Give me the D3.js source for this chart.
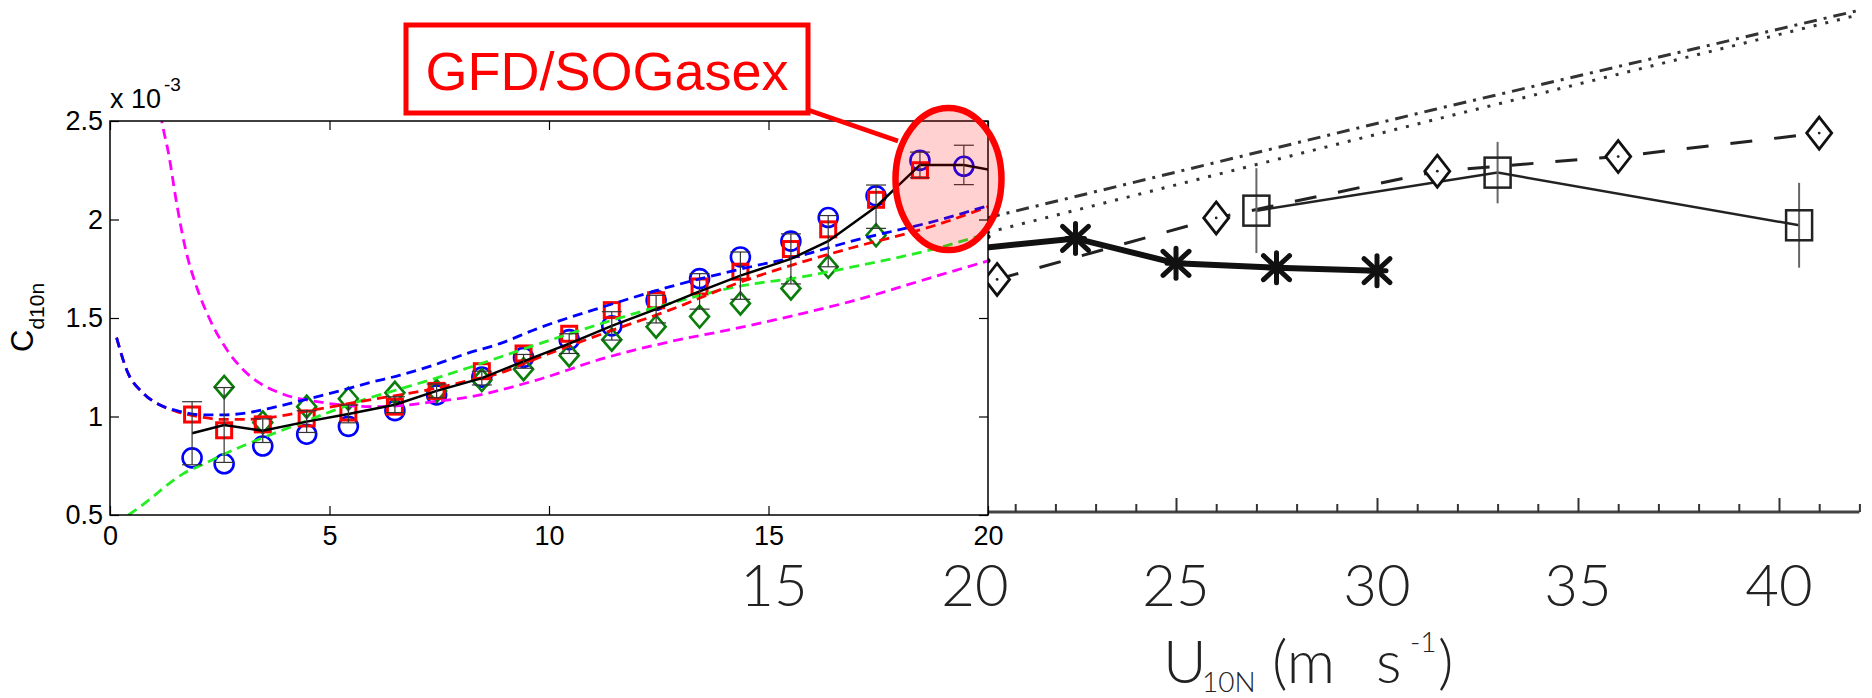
<!DOCTYPE html>
<html>
<head>
<meta charset="utf-8">
<script src="https://cdn.jsdelivr.net/npm/d3@7"></script>
<style>
  html, body { margin: 0; padding: 0; background: #fff; }
  svg { display: block; }
</style>
</head>
<body>
<svg id="chart" width="1872" height="698"></svg>
<script>
// ---- left panel (GFD / SOGasex bin averages), Cd x 10^-3 ----
const uBins = [1.87, 2.6, 3.48, 4.48, 5.43, 6.49, 7.44, 8.47, 9.42, 10.46, 11.43, 12.44, 13.43, 14.36, 15.51, 16.36, 17.45, 18.45, 19.45, 20.45];
const cdCircle = [0.79, 0.76, 0.85, 0.91, 0.95, 1.03, 1.11, 1.20, 1.30, 1.39, 1.46, 1.59, 1.70, 1.81, 1.89, 2.01, 2.12, 2.30, 2.27];
const cdSquare = [1.01, 0.93, 0.96, 0.99, 1.02, 1.05, 1.13, 1.23, 1.32, 1.42, 1.54, 1.59, 1.66, 1.735, 1.85, 1.95, 2.10, 2.25];
const uDiamond = [2.6, 3.48, 4.48, 5.43, 6.49, 7.44, 8.47, 9.42, 10.46, 11.43, 12.44, 13.43, 14.36, 15.51, 16.36, 17.45];
const cdDiamond = [1.15, 0.97, 1.05, 1.09, 1.12, 1.13, 1.185, 1.24, 1.31, 1.39, 1.456, 1.507, 1.574, 1.65, 1.76, 1.92];
const cdMean = [0.915, 0.957, 0.928, 0.974, 1.013, 1.06, 1.13, 1.195, 1.28, 1.37, 1.46, 1.545, 1.635, 1.715, 1.80, 1.89, 2.065, 2.277, 2.277, 2.235];
const errMean = [0.16, 0.19, 0.06, 0.055, 0.045, 0.04, 0.035, 0.035, 0.035, 0.05, 0.072, 0.07, 0.09, 0.12, 0.127, 0.13, 0.11, 0.065, 0.10];

// model curves (dashed)
const uCurve = [0.15, 0.38, 0.76, 1.14, 1.52, 2.13, 2.58, 3.04, 3.80, 4.56, 5.31, 5.92, 6.61, 7.36, 8.13, 8.88, 9.72, 11.24, 12.76, 14.28, 15.79, 16.86, 18.93, 20];
const cdBlue  = [1.40, 1.236, 1.118, 1.058, 1.03, 1.008, 1.008, 1.016, 1.05, 1.092, 1.135, 1.172, 1.21, 1.26, 1.32, 1.37, 1.445, 1.557, 1.659, 1.744, 1.82, 1.888, 2.00, 2.07];
const cdRed   = [1.40, 1.236, 1.118, 1.058, 1.025, 0.995, 0.985, 0.985, 1.00, 1.03, 1.06, 1.085, 1.11, 1.14, 1.18, 1.22, 1.295, 1.422, 1.541, 1.676, 1.786, 1.854, 1.98, 2.065];
const uGreen  = [0.42, 0.91, 1.29, 1.67, 2.05, 2.81, 3.57, 4.33, 5.09, 5.85, 6.61, 7.36, 8.2, 9.72, 11.24, 12.76, 14.28, 15.79, 16.86, 18.93, 20];
const cdGreen = [0.50, 0.58, 0.65, 0.71, 0.75, 0.83, 0.90, 0.965, 1.03, 1.09, 1.14, 1.19, 1.25, 1.365, 1.475, 1.574, 1.659, 1.71, 1.757, 1.86, 1.93];
const uMagenta  = [1.1, 1.18, 1.33, 1.52, 1.71, 1.97, 2.28, 2.66, 3.04, 3.42, 3.80, 4.18, 4.48, 5.31, 5.92, 6.61, 7.36, 8.2, 9.72, 11.24, 12.76, 14.28, 15.79, 16.86, 18.93, 20];
const cdMagenta = [2.62, 2.5, 2.34, 2.08, 1.86, 1.66, 1.49, 1.34, 1.236, 1.168, 1.126, 1.097, 1.084, 1.058, 1.05, 1.055, 1.075, 1.10, 1.185, 1.295, 1.38, 1.448, 1.524, 1.583, 1.72, 1.79];

const xTicksL = [0, 5, 10, 15, 20];
const yTicksL = [0.5, 1, 1.5, 2, 2.5];

// ---- background scanned panel ----
const uStar = [20, 22.5, 25, 27.5, 30];
const cdStar = [1.80, 1.87, 1.70, 1.67, 1.65];
const uDiamR = [20.55, 26.0, 31.5, 36.0, 41.0];
const cdDiamR = [1.59, 2.01, 2.33, 2.43, 2.59];
const uBoxR = [27.0, 33.0, 40.5];
const cdBoxR = [2.06, 2.32, 1.96];
const errBoxR = [0.29, 0.21, 0.29];
const uLineR = [20.3, 31.4, 42];
const cdDashDot = [2.01, 2.75, 3.43];
const cdDotted = [1.91, 2.68, 3.40];
const xMinorR = d3.range(21, 43);
const xMajorR = [25, 30, 35, 40];
const xLabelsR = [15, 20, 25, 30, 35, 40];

const svg = d3.select("#chart");

const xR = d3.scaleLinear().domain([20, 40]).range([975, 1779]);
const yR = d3.scaleLinear().domain([0, 3.5]).range([512, 0]);

const x = d3.scaleLinear().domain([0, 20]).range([110, 988]);
const y = d3.scaleLinear().domain([0.5, 2.5]).range([515, 121]);

const hershey = "Lato, Roboto, 'DejaVu Sans', sans-serif";

// ================= background panel =================
const bg = svg.append("g");
const lineR = d3.line().x(d => xR(d[0])).y(d => yR(d[1]));

bg.append("path")
  .attr("d", lineR(d3.zip(uLineR, cdDashDot)))
  .attr("fill", "none").attr("stroke", "#333").attr("stroke-width", 3)
  .attr("stroke-dasharray", "13,7,3,7");
bg.append("path")
  .attr("d", lineR(d3.zip(uLineR, cdDotted)))
  .attr("fill", "none").attr("stroke", "#333").attr("stroke-width", 3)
  .attr("stroke-dasharray", "3,9");

bg.append("path")
  .attr("d", lineR(d3.zip(uDiamR, cdDiamR)))
  .attr("fill", "none").attr("stroke", "#222").attr("stroke-width", 3)
  .attr("stroke-dasharray", "22,22");

bg.append("path")
  .attr("d", lineR(d3.zip(uBoxR, cdBoxR)))
  .attr("fill", "none").attr("stroke", "#222").attr("stroke-width", 2.5);

bg.selectAll(".ebR").data(d3.range(uBoxR.length)).join("line")
  .attr("x1", i => xR(uBoxR[i])).attr("x2", i => xR(uBoxR[i]))
  .attr("y1", i => yR(cdBoxR[i] - errBoxR[i])).attr("y2", i => yR(cdBoxR[i] + errBoxR[i]))
  .attr("stroke", "#666").attr("stroke-width", 2);

bg.selectAll(".boxR").data(d3.range(uBoxR.length)).join("rect")
  .attr("x", i => xR(uBoxR[i]) - 13).attr("y", i => yR(cdBoxR[i]) - 15)
  .attr("width", 26).attr("height", 30)
  .attr("fill", "none").attr("stroke", "#222").attr("stroke-width", 2.5);

bg.selectAll(".diamR").data(d3.range(uDiamR.length)).join("path")
  .attr("transform", i => `translate(${xR(uDiamR[i])},${yR(cdDiamR[i])})`)
  .attr("d", "M0,-16L12.5,0L0,16L-12.5,0Z")
  .attr("fill", "#fff").attr("stroke", "#111").attr("stroke-width", 2.8);
bg.selectAll(".diamDot").data(d3.range(uDiamR.length)).join("circle")
  .attr("cx", i => xR(uDiamR[i])).attr("cy", i => yR(cdDiamR[i]))
  .attr("r", 1.4).attr("fill", "#222");

bg.append("path")
  .attr("d", lineR(d3.zip(uStar, cdStar)))
  .attr("fill", "none").attr("stroke", "#111").attr("stroke-width", 6);
const star = bg.selectAll(".star").data(d3.range(uStar.length)).join("g")
  .attr("transform", i => `translate(${xR(uStar[i])},${yR(cdStar[i])})`)
  .attr("stroke", "#111").attr("stroke-width", 5).attr("stroke-linecap", "round");
star.append("line").attr("x1", 0).attr("y1", -15).attr("x2", 0).attr("y2", 15);
star.append("line").attr("x1", -13).attr("y1", -12).attr("x2", 13).attr("y2", 12);
star.append("line").attr("x1", -13).attr("y1", 12).attr("x2", 13).attr("y2", -12);
star.append("line").attr("x1", -9).attr("y1", 0).attr("x2", 9).attr("y2", 0);

// axis of the background panel
bg.append("line")
  .attr("x1", 988).attr("x2", xR(42)).attr("y1", yR(0)).attr("y2", yR(0))
  .attr("stroke", "#444").attr("stroke-width", 3);
bg.append("g")
  .attr("transform", `translate(0,${yR(0)})`)
  .call(d3.axisBottom(xR).tickValues(xMinorR.filter(v => !xMajorR.includes(v))).tickSize(-8).tickFormat(""))
  .call(g => g.select(".domain").remove())
  .call(g => g.selectAll("line").attr("stroke", "#333").attr("stroke-width", 2));
bg.append("g")
  .attr("transform", `translate(0,${yR(0)})`)
  .call(d3.axisBottom(xR).tickValues(xMajorR).tickSize(-14).tickFormat(""))
  .call(g => g.select(".domain").remove())
  .call(g => g.selectAll("line").attr("stroke", "#333").attr("stroke-width", 2));

bg.selectAll(".labR").data(xLabelsR).join("text")
  .attr("x", d => xR(d)).attr("y", 606)
  .attr("text-anchor", "middle")
  .attr("font-family", hershey).attr("font-weight", 300)
  .attr("font-size", 58).attr("fill", "#222")
  .text(d => d);

const title = bg.append("text")
  .attr("font-family", hershey).attr("font-weight", 300)
  .attr("fill", "#222").attr("font-size", 60);
title.append("tspan").attr("x", 1163).attr("y", 683).text("U");
title.append("tspan").attr("x", 1202).attr("y", 692).attr("font-size", 28).text("10N");
title.append("tspan").attr("x", 1272).attr("y", 683).text("(m");
title.append("tspan").attr("x", 1376).attr("y", 683).text("s");
title.append("tspan").attr("x", 1410).attr("y", 652).attr("font-size", 28).text("-1");
title.append("tspan").attr("x", 1438).attr("y", 683).text(")");

// ================= left (foreground) panel =================
svg.append("rect").attr("x", 0).attr("y", 0).attr("width", 988).attr("height", 556).attr("fill", "#fff");

svg.append("defs").append("clipPath").attr("id", "clipL")
  .append("rect").attr("x", 110).attr("y", 121).attr("width", 878).attr("height", 394);

const plot = svg.append("g").attr("clip-path", "url(#clipL)");
const line = d3.line().x(d => x(d[0])).y(d => y(d[1]));

// markers
plot.selectAll(".circ").data(cdCircle).join("circle")
  .attr("cx", (d, i) => x(uBins[i])).attr("cy", d => y(d))
  .attr("r", 9.5).attr("fill", "none").attr("stroke", "#0000ff").attr("stroke-width", 2.6);
plot.selectAll(".diam").data(cdDiamond).join("path")
  .attr("transform", (d, i) => `translate(${x(uDiamond[i])},${y(d)})`)
  .attr("d", "M0,-11L9.5,0L0,11L-9.5,0Z")
  .attr("fill", "none").attr("stroke", "#0a7d0a").attr("stroke-width", 2.6);
plot.selectAll(".sq").data(cdSquare).join("rect")
  .attr("x", (d, i) => x(uBins[i]) - 7.5).attr("y", d => y(d) - 7.5)
  .attr("width", 15).attr("height", 15)
  .attr("fill", "none").attr("stroke", "#ff0000").attr("stroke-width", 3);

// dashed model curves
const curves = [
  [uMagenta, cdMagenta, "#ff00ff"],
  [uGreen, cdGreen, "#22ee22"],
  [uCurve, cdRed, "#ff0000"],
  [uCurve, cdBlue, "#0000ff"]
];
curves.forEach(([us, vs, col]) => {
  plot.append("path")
    .attr("d", d3.line().curve(d3.curveMonotoneX).x(d => x(d[0])).y(d => y(d[1]))(d3.zip(us, vs)))
    .attr("fill", "none").attr("stroke", col).attr("stroke-width", 2.8)
    .attr("stroke-dasharray", "10,6");
});

// mean line and error bars
plot.append("path")
  .attr("d", line(d3.zip(uBins, cdMean)))
  .attr("fill", "none").attr("stroke", "#000").attr("stroke-width", 2.5);
const eb = plot.selectAll(".eb").data(errMean).join("g").attr("stroke", "#333").attr("stroke-width", 1.2);
eb.append("line")
  .attr("x1", (d, i) => x(uBins[i])).attr("x2", (d, i) => x(uBins[i]))
  .attr("y1", (d, i) => y(cdMean[i] - d)).attr("y2", (d, i) => y(cdMean[i] + d));
eb.append("line")
  .attr("x1", (d, i) => x(uBins[i]) - 10).attr("x2", (d, i) => x(uBins[i]) + 10)
  .attr("y1", (d, i) => y(cdMean[i] - d)).attr("y2", (d, i) => y(cdMean[i] - d));
eb.append("line")
  .attr("x1", (d, i) => x(uBins[i]) - 10).attr("x2", (d, i) => x(uBins[i]) + 10)
  .attr("y1", (d, i) => y(cdMean[i] + d)).attr("y2", (d, i) => y(cdMean[i] + d));

// frame and axes
const fontL = "'Liberation Sans', Arial, sans-serif";
svg.append("rect").attr("x", 110).attr("y", 121).attr("width", 878).attr("height", 394)
  .attr("fill", "none").attr("stroke", "#000").attr("stroke-width", 1.5);

const styleAxis = g => {
  g.select(".domain").remove();
  g.selectAll("line").attr("stroke", "#000").attr("stroke-width", 1.2);
  g.selectAll("text").attr("font-family", fontL).attr("font-size", 27).attr("fill", "#000");
};
svg.append("g").attr("transform", "translate(0,515)")
  .call(d3.axisBottom(x).tickValues(xTicksL).tickSize(-9).tickPadding(11).tickFormat(d3.format("")))
  .call(styleAxis);
svg.append("g").attr("transform", "translate(110,0)")
  .call(d3.axisLeft(y).tickValues(yTicksL).tickSize(-9).tickPadding(7).tickFormat(d3.format("")))
  .call(styleAxis);
svg.append("g").attr("transform", "translate(0,121)")
  .call(d3.axisTop(x).tickValues(xTicksL).tickSize(-9).tickFormat(""))
  .call(styleAxis);
svg.append("g").attr("transform", "translate(988,0)")
  .call(d3.axisRight(y).tickValues(yTicksL).tickSize(-9).tickFormat(""))
  .call(styleAxis);

// exponent label
const expo = svg.append("text").attr("font-family", fontL).attr("fill", "#000");
expo.append("tspan").attr("x", 110).attr("y", 108).attr("font-size", 27).text("x 10");
expo.append("tspan").attr("x", 164).attr("y", 91).attr("font-size", 19).text("-3");

// y label
const ylab = svg.append("text")
  .attr("transform", "translate(33,352) rotate(-90)")
  .attr("font-family", fontL).attr("fill", "#000");
ylab.append("tspan").attr("font-size", 31).text("C");
ylab.append("tspan").attr("font-size", 21).attr("dy", 11).text("d10n");

// ================= annotation =================
svg.append("ellipse")
  .attr("cx", x(19.1)).attr("cy", y(2.205)).attr("rx", 53).attr("ry", 71)
  .attr("fill", "rgba(255,0,0,0.18)").attr("stroke", "#ff0000").attr("stroke-width", 6.5);
svg.append("line")
  .attr("x1", 808).attr("y1", 110).attr("x2", 898).attr("y2", 141)
  .attr("stroke", "#ff0000").attr("stroke-width", 4.5);
svg.append("rect")
  .attr("x", 406).attr("y", 25).attr("width", 402).attr("height", 88)
  .attr("fill", "#fff").attr("stroke", "#ff0000").attr("stroke-width", 5);
svg.append("text")
  .attr("x", 607).attr("y", 90).attr("text-anchor", "middle")
  .attr("font-family", fontL).attr("font-size", 54).attr("fill", "#ff0000")
  .text("GFD/SOGasex");
</script>
</body>
</html>
